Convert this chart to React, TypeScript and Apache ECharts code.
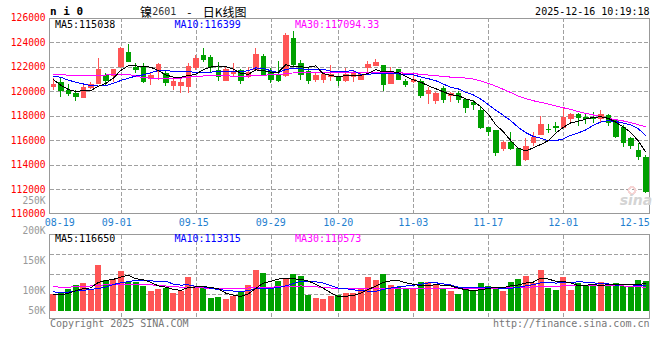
import React, { useEffect, useRef } from 'react';
import * as echarts from 'echarts';

// ---------- data ----------
const DATES = [
  '08-19','08-20','08-21','08-22','08-25','08-26','08-27','08-28','08-29',
  '09-01','09-02','09-03','09-04','09-05','09-08','09-09','09-10','09-11','09-12',
  '09-15','09-16','09-17','09-18','09-19','09-22','09-23','09-24','09-25','09-26',
  '09-29','09-30',
  '10-09','10-10','10-13','10-14','10-15','10-16','10-17',
  '10-20','10-21','10-22','10-23','10-24','10-27','10-28','10-29','10-30','10-31',
  '11-03','11-04','11-05','11-06','11-07','11-10','11-11','11-12','11-13','11-14',
  '11-17','11-18','11-19','11-20','11-21','11-24','11-25','11-26','11-27','11-28',
  '12-01','12-02','12-03','12-04','12-05','12-08','12-09','12-10','12-11','12-12',
  '12-15','12-16',
];

const OPEN = [
  120380,120700,120050,119860,119480,120330,120620,121250,121250,122060,
  123180,121980,121930,121050,121600,121490,120460,120460,120380,121960,
  122960,122780,121660,120920,121470,121680,121190,121820,122820,121600,
  121390,121270,124270,122230,121600,121000,121000,121190,121110,120920,
  121190,121000,121930,122070,122070,120650,121820,120780,120840,120840,
  119780,119210,120190,119640,119780,119290,119070,118470,117030,116780,
  115310,115810,115290,114470,115860,116470,116900,117100,117040,117800,
  118090,117900,117850,117820,118010,117580,117030,116110,115130,114580,
];
const CLOSE = [
  120570,120030,119800,119560,120330,120570,121800,120920,121740,123480,
  122470,121740,120780,121330,122170,120700,120840,120700,122010,122660,
  122580,121930,121190,121740,121600,120870,121520,123040,121390,121000,
  120870,124540,122150,121390,120920,121330,121410,121390,120870,121410,
  121470,121410,122150,122370,120570,121550,120980,120570,121000,119640,
  120050,119780,119370,119780,119290,118690,118940,117030,116700,114990,
  115860,115310,113980,115530,116210,117250,116870,117070,117900,118070,
  117850,117750,117800,118120,117440,116290,115810,115560,114660,111860,
];
const LOW = [
  120100,119560,119640,119230,119450,120150,120600,120520,120750,121900,
  122390,121470,120640,120510,120920,120460,120110,119900,119890,121740,
  122420,121490,120870,120920,121190,120600,121090,121800,121330,120700,
  120780,121190,122070,120920,120600,120740,120650,120870,120430,120780,
  120780,121000,121470,122050,120050,120570,120920,120330,120650,119480,
  118960,118960,119020,119100,119070,118250,118470,116920,116380,114720,
  115130,115210,113930,114330,115540,116450,116620,116700,116980,117310,
  117170,117370,117390,117410,117170,116160,115480,115250,114400,111700,
];
const HIGH = [
  121060,121110,120570,120110,120650,120780,122740,121490,121860,123650,
  123860,122310,122350,121580,122330,121710,121060,121000,122330,122960,
  123510,122960,122420,122010,122330,121800,122010,123560,123020,121930,
  122470,124720,124920,122550,121930,121520,121520,122150,121270,121930,
  121660,121600,122470,122640,122100,121960,121850,120980,121330,121000,
  120380,119970,120430,119970,120020,119480,119290,118740,117110,116800,
  115940,116650,115400,116190,116650,117980,117300,117490,118740,118200,
  118250,118200,118310,118450,118160,117740,117250,116290,115800,114800,
];

const MA5 = [
  120950,120500,120150,119980,120060,120060,120410,120640,121070,121700,
  122080,122070,122040,121960,121700,121340,121160,121150,121280,121380,
  121760,121980,122070,122020,121810,121470,121380,121750,121680,121560,
  121560,122170,121990,121990,121970,122070,121440,121290,121180,121280,
  121310,121310,121460,121760,121590,121610,121520,121210,120930,120750,
  120450,120210,119970,119720,119650,119380,119210,118750,118130,117270,
  116700,115980,115370,115130,115380,115660,115970,116590,117060,117430,
  117550,117730,117870,117920,117790,117480,117090,116640,115950,115038,
];
const MA10 = [
  121250,121140,120920,120740,120600,120460,120430,120460,120650,120880,
  121070,121240,121340,121520,121700,121710,121620,121600,121620,121540,
  121550,121570,121610,121650,121600,121610,121680,121910,121850,121690,
  121520,121780,121870,121840,121770,121820,121800,121640,121590,121630,
  121690,121380,121380,121470,121440,121460,121420,121340,121350,121170,
  121030,120870,120590,120330,120200,119920,119710,119360,118930,118460,
  118040,117600,117060,116630,116320,116180,115970,115980,116100,116410,
  116600,116850,117230,117490,117610,117520,117410,117260,116940,116399,
];
const MA30 = [
  121390,121400,121300,121280,121270,121270,121300,121330,121380,121390,
  121380,121250,121100,121080,121070,121060,121060,121070,121150,121230,
  121250,121300,121320,121260,121240,121220,121240,121300,121320,121340,
  121380,121430,121500,121540,121550,121550,121550,121560,121560,121560,
  121560,121560,121555,121550,121540,121530,121510,121480,121440,121390,
  121330,121280,121200,121160,121120,121080,121000,120850,120650,120420,
  120160,119900,119620,119400,119230,119100,118960,118800,118660,118515,
  118350,118200,118070,117930,117800,117680,117580,117440,117270,117094.33,
];

const VOLUME = [
  99100,101400,107800,114700,118600,106000,149100,123300,124500,139300,
  120300,120300,112900,104300,107800,110000,100300,104800,128400,112900,
  112900,92800,94000,90500,95700,102100,114700,140500,135900,111200,
  121600,124500,134100,130200,97400,92800,90500,95700,96900,100300,
  100300,109500,128400,123300,133600,114700,111200,110000,110000,119800,
  119800,114700,107800,104300,99100,107800,104300,118100,112900,111200,
  104300,119800,125000,130200,118600,140500,110000,106000,128400,106000,
  117600,112900,112900,119800,112900,118100,112900,112900,123300,121600,
];
const VMA5 = [
  98600,97400,100300,104800,108300,109700,119200,122300,124300,128400,
  131300,125500,123500,119400,113100,111100,107100,105400,110300,111300,
  111900,110400,108200,100600,97200,95000,99400,108700,117800,120900,
  124800,126700,125500,124300,121600,115800,109000,101300,94700,95200,
  96700,100500,107100,112400,119000,121900,122200,118600,115900,113100,
  114200,114900,114400,113300,109100,106700,104700,106700,108400,110900,
  110200,113300,114600,118100,119600,126800,124900,121100,120700,118200,
  113600,114200,115600,113800,115200,115300,115300,115300,116000,116650,
];
const VMA10 = [
  103000,101500,102500,104300,105500,107000,108500,111000,115500,118400,
  120500,122400,122900,121900,120800,121200,116300,114500,114900,112200,
  111500,108800,106800,105500,104300,103500,104900,108500,109200,109100,
  109900,113100,117100,121100,121300,120300,117900,113400,109500,108400,
  106300,104800,104200,103600,107100,109300,111400,112900,114200,116100,
  118100,118600,116500,114600,111100,110500,109800,110600,110900,110000,
  108500,109000,110700,113300,115300,118500,119100,117900,119400,118900,
  120200,119600,118400,117300,116700,114500,114800,115000,114000,113315,
];
const VMA30 = [
  111500,111000,111000,111500,112000,113000,114000,115000,116000,116300,
  116300,116000,115500,115000,114000,113000,112000,111000,110500,110000,
  109500,109000,109000,109000,109000,109000,109500,110000,110500,111000,
  111500,112000,112500,113000,112500,111500,110500,109500,108500,108000,
  107800,108000,108500,109000,109000,109000,109000,109000,109000,109000,
  109000,109000,109000,109000,109000,109000,109000,109000,109000,109000,
  109300,109800,110300,110800,111200,111700,112200,112700,113000,113300,
  113300,113300,113300,113300,113300,113300,113000,112500,111800,110573,
];

const DATE_LABELS = ['08-19','09-01','09-15','09-29','10-20','11-03','11-17','12-01','12-15'];
const GRID_DATES = ['09-01','09-15','09-29','10-20','11-03','11-17','12-01'];
const PRICE_MIN = 110000;
const PRICE_MAX = 126000;
const PRICE_STEP = 2000;
const VOL_LABEL_MIN = 50000;
const VOL_LABEL_MAX = 250000;
const VOL_LABEL_STEP = 50000;
const TITLE_CODE = 'n i 0';
const TIME_STAMP = '2025-12-16 10:19:18';

// ---------- styles ----------
const UP = '#ff5555';
const DOWN = '#00a000';
const GRID_COLOR = '#a0a0a0';
const FRAME_COLOR = '#999999';
const DATE_COLOR = '#1f7fcf';
const MONO = '"DejaVu Sans Mono", "Liberation Mono", monospace';
const CJK = '"Noto Sans CJK SC", sans-serif';
const DASH = 'dashed';

const last = (a: number[]) => a[a.length - 1];

export default function App() {
  const ref = useRef<HTMLDivElement>(null);

  useEffect(() => {
    const chart = echarts.init(ref.current!, null, { renderer: 'svg' });

    const dateBase = { color: DATE_COLOR, fontFamily: MONO, fontSize: 10, lineHeight: 9 };
    const shiftTok: Record<string, string> = { '08-19': 'r7', '09-01': 'l4', '09-15': 'l2', '12-15': 'l3' };
    const hidden = () => ({ show: false });

    const vSplit = () => ({
      show: true,
      interval: (idx: number) => GRID_DATES.includes(DATES[idx]),
      showMinLine: true,
      showMaxLine: false,
      lineStyle: {
        color: [...GRID_DATES.map(() => GRID_COLOR), 'rgba(0,0,0,0)'],
        type: DASH,
        width: 1,
      },
    });
    const hSplit = () => ({
      show: true,
      showMinLine: false,
      showMaxLine: false,
      lineStyle: { color: GRID_COLOR, type: DASH, width: 1 },
    });

    const txt = (x: number, y: number, text: string, fill: string, extra: any = {}) => ({
      type: 'text',
      x,
      y,
      silent: true,
      z: 100,
      style: {
        text,
        fill,
        fontFamily: MONO,
        fontSize: 10,
        align: 'left',
        verticalAlign: 'middle',
        ...extra,
      },
    });

    const frameGrid = (top: number, height: number) => ({
      left: 49.5, top, width: 600, height,
      show: true, borderColor: FRAME_COLOR, borderWidth: 1,
      outerBoundsMode: 'none',
    });

    const option: any = {
      animation: false,
      backgroundColor: '#ffffff',
      grid: [
        { left: 49.5, top: 17.8, width: 600, height: 196, outerBoundsMode: 'none' },   // 0 price
        { left: 49.5, top: 234, width: 600, height: 77, outerBoundsMode: 'none' },     // 1 volume
        { left: 53.25, top: 17.8, width: 600, height: 196, outerBoundsMode: 'none' },  // 2 price vertical grid
        { left: 53.25, top: 234.5, width: 600, height: 84, outerBoundsMode: 'none' },  // 3 volume vertical grid
        { left: 49.5, top: 234.5, width: 600, height: 80, outerBoundsMode: 'none' },   // 4 volume horizontal grid
        { left: 49.5, top: 200.5, width: 600, height: 120.2, outerBoundsMode: 'none' },// 5 volume tick labels
        frameGrid(18.5, 195),                                                         // 6 price frame
        frameGrid(234.5, 84),                                                         // 7 volume frame
      ],
      xAxis: [
        {
          gridIndex: 0,
          type: 'category',
          data: DATES,
          boundaryGap: true,
          axisLine: hidden(),
          axisTick: hidden(),
          splitLine: hidden(),
          axisLabel: {
            ...dateBase,
            margin: 4,
            interval: (idx: number, value: string) => DATE_LABELS.includes(value),
            formatter: (value: string) => (shiftTok[value] ? `{${shiftTok[value]}|${value}}` : value),
            rich: {
              r7: { ...dateBase, padding: [0, 0, 0, 13] },
              l4: { ...dateBase, padding: [0, 8, 0, 0] },
              l3: { ...dateBase, padding: [0, 7, 0, 0] },
              l2: { ...dateBase, padding: [0, 4, 0, 0] },
            },
          },
        },
        { gridIndex: 1, type: 'category', data: DATES, boundaryGap: true, show: false },
        {
          gridIndex: 2, type: 'category', data: DATES, boundaryGap: true,
          axisLine: hidden(), axisTick: hidden(), axisLabel: hidden(), splitLine: vSplit(),
        },
        {
          gridIndex: 3, type: 'category', data: DATES, boundaryGap: true,
          axisLine: hidden(), axisTick: hidden(), axisLabel: hidden(), splitLine: vSplit(),
        },
        { gridIndex: 4, type: 'value', min: 0, max: 1, show: false },
        { gridIndex: 5, type: 'value', min: 0, max: 1, show: false },
        { gridIndex: 6, type: 'value', min: 0, max: 1, show: false },
        { gridIndex: 7, type: 'value', min: 0, max: 1, show: false },
      ],
      yAxis: [
        {
          gridIndex: 0,
          type: 'value',
          min: PRICE_MIN,
          max: PRICE_MAX,
          interval: PRICE_STEP,
          axisLine: hidden(),
          axisTick: hidden(),
          splitLine: hSplit(),
          axisLabel: {
            color: '#ff0000',
            fontFamily: MONO,
            fontSize: 9.6,
            lineHeight: 9,
            margin: 4,
            padding: [0, 0, 4, 0],
            formatter: (v: number) => String(v),
          },
        },
        { gridIndex: 1, type: 'value', min: 69830, max: 202580, show: false },
        { gridIndex: 2, type: 'value', min: 0, max: 1, show: false },
        { gridIndex: 3, type: 'value', min: 0, max: 1, show: false },
        {
          gridIndex: 4,
          type: 'value',
          min: 0,
          max: 4,
          interval: 1,
          axisLine: hidden(),
          axisTick: hidden(),
          axisLabel: hidden(),
          splitLine: hSplit(),
        },
        {
          gridIndex: 5,
          type: 'value',
          min: VOL_LABEL_MIN,
          max: VOL_LABEL_MAX,
          interval: VOL_LABEL_STEP,
          axisLine: hidden(),
          axisTick: hidden(),
          splitLine: hidden(),
          axisLabel: {
            color: '#999999',
            fontFamily: MONO,
            fontSize: 9.6,
            lineHeight: 9,
            margin: 4,
            formatter: (v: number) => (v === VOL_LABEL_MIN ? `{lo|${v / 1000}K}` : `{n|${v / 1000}K}`),
            rich: {
              n: { color: '#999999', fontFamily: MONO, fontSize: 9.6, lineHeight: 9 },
              lo: { color: '#999999', fontFamily: MONO, fontSize: 9.6, lineHeight: 9, padding: [0, 0, 20, 0] },
            },
          },
        },
        { gridIndex: 6, type: 'value', min: 0, max: 1, show: false },
        { gridIndex: 7, type: 'value', min: 0, max: 1, show: false },
      ],
      series: [
        {
          type: 'candlestick',
          xAxisIndex: 0,
          yAxisIndex: 0,
          barWidth: 5,
          data: DATES.map((_, i) => [OPEN[i], CLOSE[i], LOW[i], HIGH[i]]),
          itemStyle: { color: UP, color0: DOWN, borderColor: UP, borderColor0: DOWN, borderWidth: 1 },
          silent: true,
        },
        { type: 'line', xAxisIndex: 0, yAxisIndex: 0, data: MA30, symbol: 'none', showSymbol: false, lineStyle: { color: '#ff00ff', width: 1 }, silent: true, z: 3 },
        { type: 'line', xAxisIndex: 0, yAxisIndex: 0, data: MA10, symbol: 'none', showSymbol: false, lineStyle: { color: '#0000ff', width: 1 }, silent: true, z: 3 },
        { type: 'line', xAxisIndex: 0, yAxisIndex: 0, data: MA5, symbol: 'none', showSymbol: false, lineStyle: { color: '#000000', width: 1 }, silent: true, z: 3 },
        {
          type: 'bar',
          xAxisIndex: 1,
          yAxisIndex: 1,
          barWidth: 6,
          clip: true,
          data: VOLUME.map((v, i) => ({ value: v, itemStyle: { color: CLOSE[i] > OPEN[i] ? UP : DOWN } })),
          silent: true,
        },
        { type: 'line', xAxisIndex: 1, yAxisIndex: 1, data: VMA30, symbol: 'none', showSymbol: false, lineStyle: { color: '#ff00ff', width: 1 }, silent: true, z: 3 },
        { type: 'line', xAxisIndex: 1, yAxisIndex: 1, data: VMA10, symbol: 'none', showSymbol: false, lineStyle: { color: '#0000ff', width: 1 }, silent: true, z: 3 },
        { type: 'line', xAxisIndex: 1, yAxisIndex: 1, data: VMA5, symbol: 'none', showSymbol: false, lineStyle: { color: '#000000', width: 1 }, silent: true, z: 3 },
      ],
      graphic: [
        // watermark
        { type: 'ring', silent: true, z: 1, shape: { cx: 632, cy: 190.5, r: 4.5, r0: 2.5 }, style: { fill: '#f6d4d4' } },
        txt(636, 199.5, 'sina', '#d4d4d4', { align: 'center', fontFamily: '"DejaVu Sans", sans-serif', fontSize: 14, fontWeight: 'bold', fontStyle: 'italic' }),
        // header
        txt(50, 11.5, TITLE_CODE, '#000000', { fontWeight: 'bold', fontSize: 11 }),
        txt(140, 11.5, '镍', '#000000', { fontFamily: CJK, fontSize: 12 }),
        txt(152.3, 11.5, '2601', '#333333', { fontSize: 10 }),
        txt(189.4, 11.5, '-', '#000000', { align: 'center', fontSize: 12, fontFamily: CJK }),
        txt(202.7, 11.5, '日K线图', '#000000', { fontFamily: CJK, fontSize: 12 }),
        txt(649.5, 11.7, TIME_STAMP, '#000000', { align: 'right' }),
        // price legend
        txt(55, 24, `MA5:${last(MA5)}`, '#000000'),
        txt(174.5, 24, `MA10:${last(MA10)}`, '#0000ff'),
        txt(295, 24, `MA30:${last(MA30)}`, '#ff00ff'),
        // volume legend
        txt(55, 238.6, `MA5:${last(VMA5)}`, '#000000'),
        txt(174.5, 238.6, `MA10:${last(VMA10)}`, '#0000ff'),
        txt(295, 238.6, `MA30:${last(VMA30)}`, '#ff00ff'),
        // footer
        txt(50, 323.3, 'Copyright 2025 SINA.COM', '#777777'),
        txt(649.5, 323.3, 'http://finance.sina.com.cn', '#777777', { align: 'right' }),
      ],
    };

    chart.setOption(option);
    return () => chart.dispose();
  }, []);

  return (
    <>
      <style>{'#kchart svg path { shape-rendering: crispEdges; }'}</style>
      <div
        id="kchart"
        ref={ref}
        style={{ position: 'absolute', left: 0, top: 0, width: 660, height: 360, background: '#ffffff' }}
      />
    </>
  );
}
